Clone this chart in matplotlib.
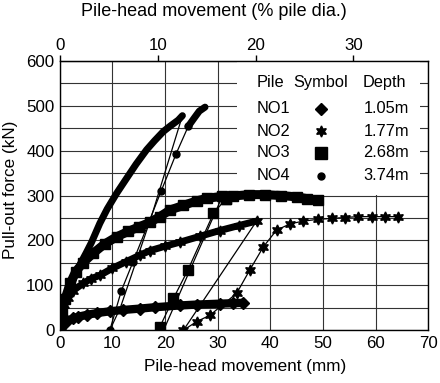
import matplotlib
matplotlib.use('Agg')
import matplotlib.pyplot as plt
from matplotlib.patches import Rectangle

plt.rcParams['font.family'] = ['Liberation Sans', 'DejaVu Sans']

PILE_DIA = 186.0  # mm, for the top axis (% pile dia.)

# NO1 (diamond), 1.05 m - monotonic pull-out
no1_x = [0, 0.3, 0.7, 1.3, 2.5, 3.5, 5.1, 7, 9.5, 12, 15.2, 18, 22.8, 26, 30.4, 33, 34.9]
no1_y = [0, 8, 15, 20, 26, 30, 34, 38, 42, 45, 48, 51, 55, 57, 59, 60, 61]

# NO2 (star), 1.77 m
no2_load_x = [0, 0.3, 0.8, 1.5, 2.5, 4.4, 6, 7.6, 10, 12.5, 15.2, 17.1, 20, 22.8, 26.6, 30.4, 34, 37.4]
no2_load_y = [0, 30, 55, 72, 88, 104, 115, 122, 138, 152, 167, 177, 187, 196, 209, 222, 233, 243]
no2_unload_x = [37.4, 23.5]
no2_unload_y = [243, 0]
no2_reload_x = [23.5, 26.0, 28.5, 33.6, 36.1, 38.7, 41.2, 43.8, 46.3, 49.1, 51.7, 54.2, 56.7, 59.3, 61.8, 64.2]
no2_reload_y = [0, 19, 33, 82, 134, 186, 223, 237, 243, 247, 249, 251, 253, 253, 253, 253]

# NO3 (square), 2.68 m
no3_load_x = [0, 0.5, 1, 2, 3, 4.4, 6.3, 8.5, 10.8, 13, 15, 17.1, 19, 21, 23.5, 26, 28, 30.8]
no3_load_y = [0, 40, 70, 105, 130, 150, 171, 192, 208, 220, 230, 240, 253, 268, 278, 288, 294, 298]
no3_unload_x = [30.8, 19.8]
no3_unload_y = [296, 2]
no3_reload_x = [19.0, 21.6, 24.3, 29.2, 31.5]
no3_reload_y = [7, 71, 133, 260, 292]
no3_cont_x = [31.5, 33, 36, 39, 42, 45, 47, 49]
no3_cont_y = [292, 299, 302, 302, 300, 297, 293, 290]

# NO4 (circle), 3.74 m
no4_load_x = [0, 0.3, 1, 2, 3, 4, 5, 6, 7.6, 9, 10.8, 12.5, 14.5, 16.5, 18, 19.7, 21, 22.5, 23.3]
no4_load_y = [0, 40, 65, 95, 125, 150, 172, 195, 238, 270, 305, 335, 370, 402, 422, 443, 455, 468, 478]
no4_unload_x = [23.3, 17.4, 11.5, 9.5]
no4_unload_y = [478, 253, 50, 0]
no4_reload_x = [9.5, 11.7, 13.9, 19.3, 22.1, 24.4]
no4_reload_y = [0, 88, 152, 311, 393, 454]
no4_cont_x = [24.4, 25.5, 26.5, 27.6]
no4_cont_y = [454, 472, 488, 497]

piles = ['NO1', 'NO2', 'NO3', 'NO4']
depths = ['1.05m', '1.77m', '2.68m', '3.74m']
markers = ['D', (6, 1, 0), 's', 'o']


def main():
    fig = plt.figure(figsize=(4.4, 3.83), dpi=100)
    ax = fig.add_axes([0.136, 0.138, 0.837, 0.703])
    k = 'black'

    # dense loading records drawn as thick bands + markers
    ax.plot(no1_x, no1_y, color=k, lw=6, solid_capstyle='round', zorder=3)
    ax.plot(no1_x, no1_y, 'D', color=k, ms=6, zorder=3)

    ax.plot(no2_load_x, no2_load_y, color=k, lw=5, solid_capstyle='round', zorder=3)
    ax.plot(no2_load_x, no2_load_y, marker=(6, 1, 0), ls='none', color=k, ms=8, zorder=3)
    ax.plot(no2_unload_x, no2_unload_y, color=k, lw=0.9, zorder=3)
    ax.plot(no2_reload_x, no2_reload_y, color=k, lw=0.9, marker=(6, 1, 0), ms=8, zorder=3)

    ax.plot(no3_load_x, no3_load_y, color=k, lw=6.5, zorder=3)
    ax.plot(no3_load_x, no3_load_y, 's', color=k, ms=7, zorder=3)
    ax.plot(no3_unload_x, no3_unload_y, color=k, lw=0.9, zorder=3)
    ax.plot(no3_reload_x, no3_reload_y, color=k, lw=0.9, marker='s', ms=7, zorder=3)
    ax.plot(no3_cont_x, no3_cont_y, color=k, lw=6.5, zorder=3)
    ax.plot(no3_cont_x, no3_cont_y, 's', color=k, ms=7, zorder=3)

    ax.plot(no4_load_x, no4_load_y, color=k, lw=5, solid_capstyle='round', zorder=3)
    ax.plot(no4_unload_x, no4_unload_y, color=k, lw=0.9, zorder=3)
    ax.plot(no4_reload_x, no4_reload_y, color=k, lw=0.9, marker='o', ms=5, zorder=3)
    ax.plot(no4_cont_x, no4_cont_y, color=k, lw=5, solid_capstyle='round', zorder=3)

    ax.set_xlim(0, 70)
    ax.set_ylim(0, 600)
    ax.set_xticks(range(0, 71, 10))
    ax.set_yticks(range(0, 601, 100))
    ax.set_yticks(range(0, 601, 50), minor=True)
    ax.set_axisbelow(True)
    ax.grid(True, which='both', color='#333333', lw=0.8)
    ax.tick_params(which='both', length=0, labelsize=12.2, pad=4)
    for s in ax.spines.values():
        s.set_linewidth(1.0)

    top = ax.secondary_xaxis('top', functions=(lambda v: v / PILE_DIA * 100,
                                               lambda v: v * PILE_DIA / 100))
    top.set_xticks([0, 10, 20, 30])
    top.tick_params(length=4, width=1, direction='out', labelsize=12.2, pad=2)

    # axis titles placed at the reference positions
    fig.text(0.556, 0.042, 'Pile-head movement (mm)', fontsize=12.3,
             ha='center', va='center')
    fig.text(0.023, 0.504, 'Pull-out force (kN)', fontsize=12.3,
             ha='center', va='center', rotation=90)
    fig.text(0.486, 0.969, 'Pile-head movement (% pile dia.)', fontsize=13,
             ha='center', va='center')

    # legend table on a white panel
    ax.add_patch(Rectangle((33.7, 301), 68.5 - 33.7, 299, facecolor='white',
                           edgecolor='none', zorder=1))
    fs = 11.8
    ax.text(37.4, 551, 'Pile', fontsize=fs, va='center', zorder=4)
    ax.text(44.3, 551, 'Symbol', fontsize=fs, va='center', zorder=4)
    ax.text(57.5, 551, 'Depth', fontsize=fs, va='center', zorder=4)
    rows_y = [493, 443, 395, 344]
    sizes = [6, 8, 8, 5]
    for name, dep, m, ry, sz in zip(piles, depths, markers, rows_y, sizes):
        ax.text(37.4, ry, name, fontsize=fs, va='center', zorder=4)
        ax.plot([49.6], [ry], marker=m, color=k, ms=sz, ls='none', zorder=4)
        ax.text(66.4, ry, dep, fontsize=fs, va='center', ha='right', zorder=4)

    fig.savefig('out.png', dpi=100)
    plt.close(fig)


if __name__ == '__main__':
    main()
